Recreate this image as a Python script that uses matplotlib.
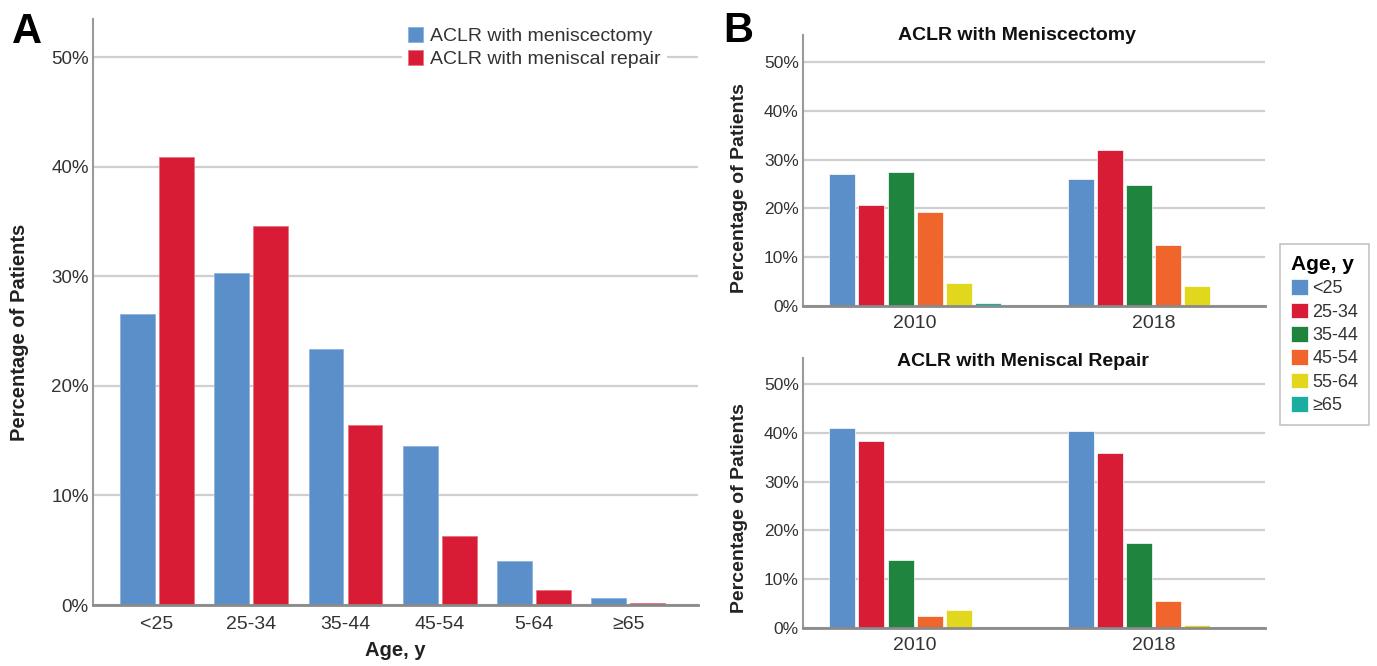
import matplotlib
matplotlib.use("Agg")
import matplotlib.pyplot as plt
import numpy as np

plt.rcParams['font.family'] = ['Liberation Sans', 'DejaVu Sans']

# Panel A data (% of patients by age group)
age_groups_a = ['<25', '25-34', '35-44', '45-54', '5-64', '≥65']
meniscectomy = [26.6, 30.3, 23.4, 14.5, 4.0, 0.65]
meniscal_repair = [40.9, 34.6, 16.4, 6.3, 1.4, 0.2]

# Panel B data (% of patients by year and age group)
years = ['2010', '2018']
age_groups_b = ['<25', '25-34', '35-44', '45-54', '55-64', '≥65']
menisc_2010 = [27.0, 20.7, 27.5, 19.3, 4.7, 0.6]
menisc_2018 = [26.0, 32.0, 24.8, 12.5, 4.1, 0.3]
repair_2010 = [41.0, 38.4, 14.0, 2.5, 3.7, 0.0]
repair_2018 = [40.4, 35.8, 17.5, 5.5, 0.6, 0.0]

blue = '#5b8fca'
red = '#d91c36'
age_colors = [blue, red, '#1f843d', '#f0652b', '#e1d81e', '#19ae9e']

W, H = 1377, 666
fig = plt.figure(figsize=(W / 100, H / 100), dpi=100)


def px_axes(left, right, top, bottom):
    return fig.add_axes([left / W, 1 - bottom / H, (right - left) / W, (bottom - top) / H])


def style_axes(ax, ytick_size, xpad):
    for side in ['top', 'right']:
        ax.spines[side].set_visible(False)
    ax.spines['left'].set_color('#9a9a9a')
    ax.spines['bottom'].set_color('#8a8a8a')
    ax.spines['left'].set_linewidth(1.5)
    ax.spines['bottom'].set_linewidth(2)
    ax.set_axisbelow(True)
    ax.yaxis.grid(True, color='#cfcfcf', linewidth=1.6)
    ax.set_yticks(np.arange(0, 51, 10))
    ax.set_yticklabels([f'{v}%' for v in range(0, 51, 10)])
    ax.tick_params(axis='y', length=0, pad=3, labelsize=ytick_size, labelcolor='#333333')
    ax.tick_params(axis='x', length=0, pad=xpad, labelsize=14, labelcolor='#333333')


# ---- Panel A ----
axA = px_axes(93, 698, 19, 605)
x = np.arange(len(age_groups_a))
bw = 0.37
axA.bar(x - 0.207, meniscectomy, bw, color=blue, edgecolor='#8fb3dd', linewidth=0.6,
        label='ACLR with meniscectomy')
axA.bar(x + 0.207, meniscal_repair, bw, color=red, edgecolor='#e8727f', linewidth=0.6,
        label='ACLR with meniscal repair')
axA.set_xlim(-0.68, 5.74)
axA.set_ylim(0, 53.5)
axA.set_xticks(x)
axA.set_xticklabels(age_groups_a)
style_axes(axA, 13.5, 8)
axA.set_xlabel('Age, y', fontsize=14.5, fontweight='bold', color='#222222')
axA.xaxis.set_label_coords(0.5, -0.062)
axA.set_ylabel('Percentage of Patients', fontsize=14.5, fontweight='bold', color='#222222')
axA.yaxis.set_label_coords(-0.106, 0.465)
axA.legend(loc='upper left', bbox_to_anchor=(402 / W, 1 - 21 / H),
           bbox_transform=fig.transFigure, fontsize=14, frameon=True, framealpha=1,
           facecolor='white', edgecolor='none', fancybox=False, borderpad=0.3,
           borderaxespad=0, handlelength=0.8, handleheight=0.8, handletextpad=0.35,
           labelspacing=0.25, labelcolor='#333333')

# ---- Panel B ----
xb = np.arange(len(years))
slot = 0.122
bwb = 0.109


def panel_b(ax, v2010, v2018, title, ylab_y, title_x, title_y):
    for i in range(len(age_groups_b)):
        ax.bar(xb + (i - 2.5) * slot, [v2010[i], v2018[i]], bwb, color=age_colors[i],
               edgecolor='white', linewidth=0.5, label=age_groups_b[i])
    ax.set_xlim(-0.47, 1.466)
    ax.set_xticks(xb)
    ax.set_xticklabels(years)
    style_axes(ax, 12.5, 6.5)
    ax.set_ylabel('Percentage of Patients', fontsize=14, fontweight='bold', color='#222222')
    ax.yaxis.set_label_coords(-0.119, ylab_y)
    fig.text(title_x / W, 1 - title_y / H, title, fontsize=14, fontweight='bold',
             ha='center', va='center', color='#111111')


axB1 = px_axes(803, 1265, 35, 306)
panel_b(axB1, menisc_2010, menisc_2018, 'ACLR with Meniscectomy', 0.437, 1017, 35)
axB1.set_ylim(0, 55.5)

axB2 = px_axes(803, 1265, 358, 628)
panel_b(axB2, repair_2010, repair_2018, 'ACLR with Meniscal Repair', 0.446, 1023, 362)
axB2.set_ylim(0, 55.3)

handles, labels = axB1.get_legend_handles_labels()
leg = fig.legend(handles, labels, title='Age, y', loc='upper left',
                 bbox_to_anchor=(1280 / W, 1 - 244 / H), fontsize=13, frameon=True,
                 framealpha=1, facecolor='white', edgecolor='#c4c4c4', fancybox=False,
                 borderpad=0.6, borderaxespad=0, handlelength=0.95, handleheight=0.95,
                 handletextpad=0.25, labelspacing=0.3, labelcolor='#333333',
                 title_fontproperties={'weight': 'bold', 'size': 15}, alignment='left')
leg.get_frame().set_linewidth(1.2)

# Panel letters
fig.text(12 / W, 1 - 12 / H, 'A', fontsize=30, fontweight='bold', va='top', ha='left')
fig.text(723 / W, 1 - 11 / H, 'B', fontsize=30, fontweight='bold', va='top', ha='left')

fig.savefig('out.png', dpi=100, facecolor='white')
